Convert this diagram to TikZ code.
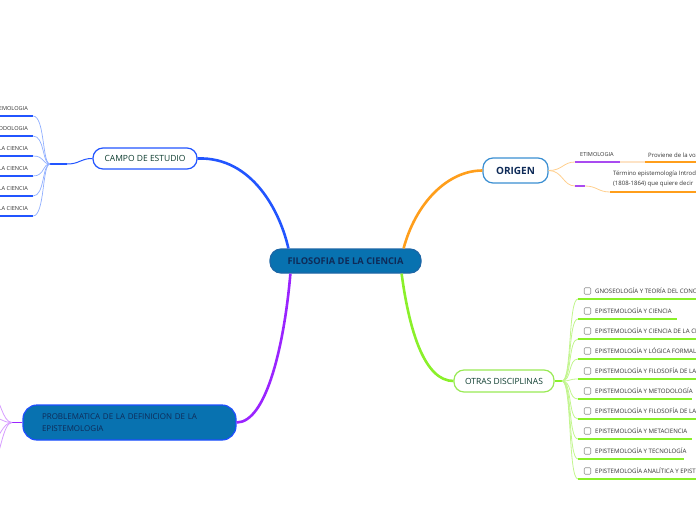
\documentclass[tikz,border=0pt]{standalone}
\usepackage{fontspec}
\setmainfont{Open Sans}
\usetikzlibrary{positioning}

\definecolor{mainblue}{HTML}{0872B0}
\definecolor{mainedge}{HTML}{1C66A6}
\definecolor{navytext}{HTML}{0F2B58}
\definecolor{greentext}{HTML}{0E3D30}
\definecolor{campoblue}{HTML}{2255FF}
\definecolor{campolight}{HTML}{8FAEFF}
\definecolor{origenblue}{HTML}{3A8FD2}
\definecolor{orangeline}{HTML}{FF9E1B}
\definecolor{orangelight}{HTML}{FFCF8E}
\definecolor{orangepale}{HTML}{FDE3C6}
\definecolor{violet}{HTML}{A94BF0}
\definecolor{greenline}{HTML}{8AF02A}
\definecolor{greenlight}{HTML}{C2F58E}
\definecolor{greenedge}{HTML}{99EA55}
\definecolor{purpleline}{HTML}{9A24FF}
\definecolor{purplelight}{HTML}{D69CFF}
\definecolor{probedge}{HTML}{1E4EFF}
\definecolor{itemtext}{HTML}{333333}

\tikzset{
  topic/.style={draw, line width=1.2pt, rounded corners=10pt, inner xsep=8pt,
    font=\fontsize{8.5}{10}\selectfont},
  item/.style={font=\fontsize{5.6}{7}\selectfont, text=itemtext, inner sep=0pt},
  note/.style={font=\fontsize{6}{10.5}\selectfont, text=itemtext, inner sep=0pt,
    align=left},
  box/.style={draw=gray!85, line width=0.6pt, rounded corners=1pt,
    minimum size=6.5pt, inner sep=0pt},
}

\begin{document}
\begin{tikzpicture}[x=1pt,y=-1pt]
\useasboundingbox (0,0) rectangle (696,520);

% main topics
\node[topic, fill=mainblue, draw=mainedge, text=navytext, minimum width=151pt,
  minimum height=24pt, rounded corners=11pt,
  font=\fontsize{9.3}{10}\selectfont\bfseries] (filo) at (345.5,261) {FILOSOFIA DE LA CIENCIA};
\node[topic, fill=white, draw=campoblue, text=greentext, minimum width=104pt,
  minimum height=21pt] (campo) at (145,158.5) {CAMPO DE ESTUDIO};
\node[topic, fill=white, draw=origenblue, text=navytext, minimum width=65pt,
  minimum height=25pt, font=\fontsize{10}{11}\selectfont\bfseries] (origen) at (515.5,170.5) {ORIGEN};
\node[topic, fill=white, draw=greenedge, text=greentext, minimum width=100pt,
  minimum height=22pt] (otras) at (504,381) {OTRAS DISCIPLINAS};
\node[topic, fill=mainblue, draw=probedge, text=navytext, minimum height=35pt,
  inner xsep=19pt, text width=175pt, align=left, rounded corners=14pt,
  font=\fontsize{8}{12}\selectfont] (prob) at (129.5,422.5)
  {PROBLEMATICA DE LA DEFINICION DE LA\\EPISTEMOLOGIA};

% branches from the centre
\draw[campoblue, line width=2.6pt] ([xshift=19pt]filo.north west)
  .. controls +(-8,-36) and +(55,-2) .. (campo.east);
\draw[orangeline, line width=2.6pt] ([xshift=-18pt]filo.north east)
  .. controls +(12,-45) and +(-35,0) .. (origen.west);
\draw[greenline, line width=2.6pt] ([xshift=-20pt]filo.south east)
  .. controls +(8,60) and +(-28,0) .. (otras.west);
\draw[purpleline, line width=2.6pt] ([xshift=21pt]filo.south west)
  .. controls +(-6,70) and +(30,0) .. (prob.east);

% campo de estudio
\coordinate (campoJ) at (50,164);
\coordinate (campoK) at (67,164);
\draw[campoblue, line width=1.8pt] (campoJ) -- (campoK);
\draw[campoblue, line width=1pt] (campoK) .. controls (80,164) and (80,158.5) .. (campo.west);
\foreach \txt [count=\i] in {EPISTEMOLOGIA, METODOLOGIA, FILOSOFIA DE LA CIENCIA,
  HISTORIA DE LA CIENCIA, SOCIOLOGIA DE LA CIENCIA, PSICOLOGIA DE LA CIENCIA} {
  \pgfmathsetmacro\yy{96+20*\i}
  \node[item, anchor=base east] (campo\i) at (28,\yy-6) {\txt};
  \coordinate (campoEnd\i) at (33,\yy);
  \draw[campoblue, line width=1.4pt] (-5,\yy) -- (campoEnd\i);
  \draw[campolight, line width=0.7pt] (campoEnd\i) .. controls +(12,0) and +(-8,0) .. (campoJ);
}

% origen
\coordinate (etimStart) at (575,162);
\coordinate (etimEnd) at (620,162);
\coordinate (provStart) at (645,162);
\coordinate (emptyStart) at (575,186);
\coordinate (emptyEnd) at (585,186);
\coordinate (termStart) at (610,192);
\node[item, anchor=base west] (etim) at (580,156.5) {ETIMOLOGIA};
\node[note, anchor=base west] (prov) at (648,157) {Proviene de la voz};
\node[note, anchor=north west] (term) at (613,170.5)
  {Término epistemología Introducido por\\(1808-1864) que quiere decir};
\draw[orangelight, line width=0.8pt] (origen.east) .. controls +(14,0) and +(-12,0) .. (etimStart);
\draw[orangelight, line width=0.8pt] (origen.east) .. controls +(14,0) and +(-12,0) .. (emptyStart);
\draw[violet, line width=1.8pt] (etimStart) -- (etimEnd);
\draw[orangepale, line width=1.8pt] (etimEnd) -- (provStart);
\draw[orangeline, line width=1.8pt] (provStart) -- (700,162);
\draw[violet, line width=1.8pt] (emptyStart) -- (emptyEnd);
\draw[orangelight, line width=0.8pt] (emptyEnd) .. controls +(12,0) and +(-12,0) .. (termStart);
\draw[orangeline, line width=1.8pt] (termStart) -- (700,192);

% otras disciplinas
\coordinate (otrasJ) at (562,381);
\draw[greenline, line width=1.8pt] (otras.east) -- (otrasJ);
\foreach \txt/\xend [count=\i] in {
  GNOSEOLOGÍA Y TEORÍA DEL CONOCIMIENTO/700,
  EPISTEMOLOGÍA Y CIENCIA/677,
  EPISTEMOLOGÍA Y CIENCIA DE LA CIENCIA/700,
  EPISTEMOLOGÍA Y LÓGICA FORMAL/700,
  EPISTEMOLOGÍA Y FILOSOFÍA DE LA CIENCIA/700,
  EPISTEMOLOGÍA Y METODOLOGÍA/692,
  EPISTEMOLOGÍA Y FILOSOFÍA DE LA TÉCNICA/700,
  EPISTEMOLOGÍA Y METACIENCIA/692,
  EPISTEMOLOGÍA Y TECNOLOGÍA/684,
  EPISTEMOLOGÍA ANALÍTICA Y EPISTEMOLOGÍA/700} {
  \pgfmathsetmacro\yy{279+20*\i}
  \coordinate (otrasStart\i) at (578,\yy);
  \node[box] (chk\i) at (587.5,\yy-8) {};
  \node[item, anchor=base west, font=\fontsize{6.1}{7}\selectfont] (otras\i) at (595,\yy-6) {\txt};
  \draw[greenlight, line width=0.8pt] (otrasJ) .. controls +(10,0) and +(-10,0) .. (otrasStart\i);
  \draw[greenline, line width=1.8pt] (otrasStart\i) -- (\xend,\yy);
}

% problematica
\coordinate (probJ) at (12,422.5);
\draw[purpleline, line width=1.6pt] (prob.west) -- (probJ);
\foreach \yy in {395,417,440,463} {
  \draw[purplelight, line width=0.8pt] (probJ) .. controls +(-10,0) and +(8,0) .. (-8,\yy);
}
\end{tikzpicture}
\end{document}
